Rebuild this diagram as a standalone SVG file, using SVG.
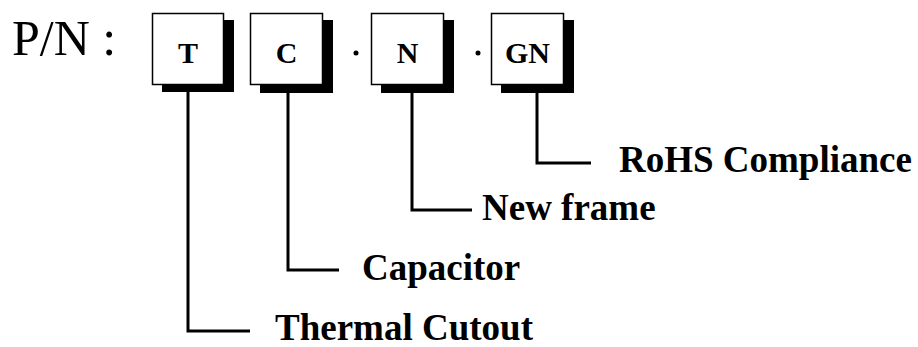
<svg xmlns="http://www.w3.org/2000/svg" width="918" height="347" viewBox="0 0 918 347">
<style>
.box{fill:#fff;stroke:#000;stroke-width:1.5}
.sh{fill:#000}
.lt{font-family:"Liberation Serif","Times New Roman",serif;font-weight:bold;font-size:30px;text-anchor:middle;fill:#000}
.lab{font-family:"Liberation Serif","Times New Roman",serif;font-weight:bold;font-size:37px;fill:#000}
.con{fill:none;stroke:#000;stroke-width:3}
</style>
<rect width="918" height="347" fill="#fff"/>
<text x="12" y="55" font-family="'Liberation Serif','Times New Roman',serif" font-size="50" fill="#000">P/N :</text>
<g id="node-T">
<rect class="sh" x="162" y="20" width="72" height="72"/>
<rect class="box" x="152.5" y="13.5" width="71" height="71"/>
<text class="lt" x="188" y="63">T</text>
</g>
<g id="node-C">
<rect class="sh" x="260" y="20" width="73" height="73"/>
<rect class="box" x="250.5" y="13.5" width="72" height="71"/>
<text class="lt" x="286.5" y="63">C</text>
</g>
<circle cx="356" cy="53" r="2.5" fill="#000"/>
<g id="node-N">
<rect class="sh" x="381" y="20" width="73" height="73"/>
<rect class="box" x="371.5" y="13.5" width="72" height="71"/>
<text class="lt" x="407.5" y="63">N</text>
</g>
<circle cx="478" cy="53" r="2.5" fill="#000"/>
<g id="node-GN">
<rect class="sh" x="501" y="20" width="73" height="73"/>
<rect class="box" x="491.5" y="13.5" width="72" height="71"/>
<text class="lt" x="527.5" y="63">GN</text>
</g>
<g id="connectors">
<polyline class="con" points="188,92 188,331 250,331"/>
<polyline class="con" points="288,93 288,270 339,270"/>
<polyline class="con" points="412,93 412,210 472,210"/>
<polyline class="con" points="537,93 537,163 591,163"/>
</g>
<g id="labels">
<text class="lab" x="619" y="172">RoHS Compliance</text>
<text class="lab" x="482" y="220">New frame</text>
<text class="lab" x="362" y="280">Capacitor</text>
<text class="lab" x="275" y="340">Thermal Cutout</text>
</g>
</svg>
